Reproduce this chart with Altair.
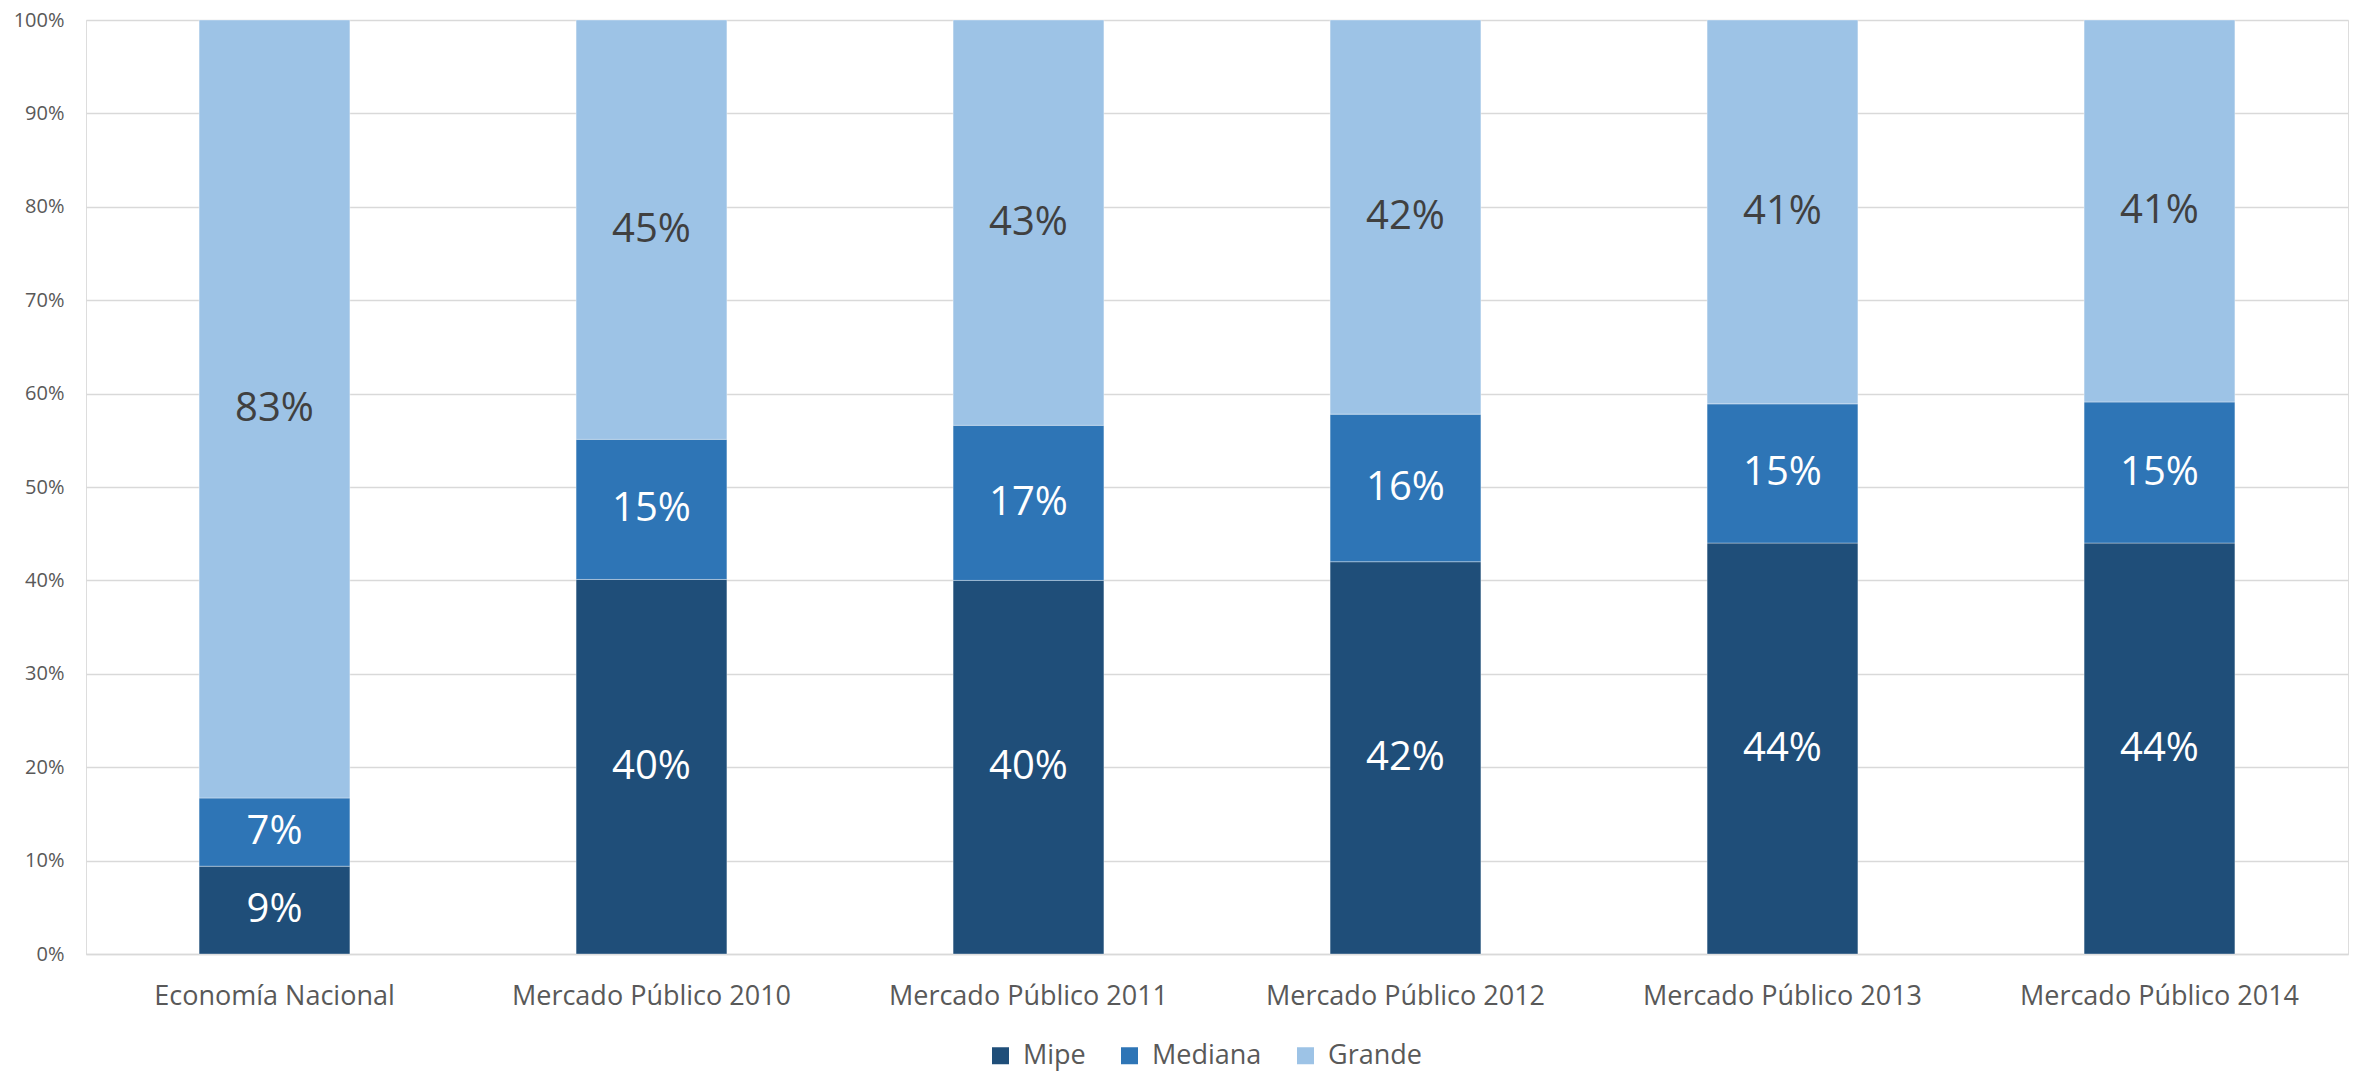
import altair as alt
import pandas as pd

categories = ["Economía Nacional", "Mercado Público 2010", "Mercado Público 2011",
              "Mercado Público 2012", "Mercado Público 2013", "Mercado Público 2014"]
segments = ["Mipe", "Mediana", "Grande"]
mipe = [0.094, 0.401, 0.400, 0.420, 0.440, 0.440]
mediana = [0.073, 0.150, 0.166, 0.158, 0.149, 0.151]
grande = [0.833, 0.449, 0.434, 0.422, 0.411, 0.409]
colors = ["#1F4E79", "#2E75B6", "#9DC3E6"]
y_ticks = [0, 0.1, 0.2, 0.3, 0.4, 0.5, 0.6, 0.7, 0.8, 0.9, 1.0]

rows = []
for i, c in enumerate(categories):
    for j, (s, vals) in enumerate(zip(segments, [mipe, mediana, grande])):
        rows.append({"Categoria": c, "Segmento": s, "orden": j, "valor": vals[i]})
df = pd.DataFrame(rows)

FONT = "Open Sans"

base = alt.Chart(df).transform_stack(
    stack="valor",
    groupby=["Categoria"],
    as_=["y0", "y1"],
    sort=[alt.SortField("orden", order="ascending")],
).transform_calculate(ymid="(datum.y0 + datum.y1) / 2")

x_enc = alt.X(
    "Categoria:N",
    sort=categories,
    title=None,
    scale=alt.Scale(paddingInner=0.6, paddingOuter=0.3),
    axis=alt.Axis(labelAngle=0, labelFontSize=27, labelColor="#595959", labelFont=FONT,
                  labelLimit=500, ticks=False, domainColor="#D9D9D9", domainWidth=1.5,
                  labelPadding=29),
)

bars = base.mark_bar(stroke="#ffffff", strokeWidth=1, strokeOpacity=0.35).encode(
    x=x_enc,
    y=alt.Y("y1:Q", title=None, scale=alt.Scale(domain=[0, 1], nice=False),
            axis=alt.Axis(format=".0%", values=y_ticks, labelFontSize=20, labelColor="#595959",
                          labelFont=FONT, domain=False, ticks=False, gridColor="#D9D9D9",
                          gridWidth=1.5, labelPadding=22)),
    y2="y0:Q",
    color=alt.Color("Segmento:N", sort=segments,
                    scale=alt.Scale(domain=segments, range=colors),
                    legend=alt.Legend(title=None, orient="none", legendX=901, legendY=1022,
                                      direction="horizontal", symbolType="square", symbolSize=289,
                                      symbolStrokeWidth=0, labelFontSize=27, labelColor="#595959",
                                      labelFont=FONT, labelOffset=9, columnPadding=30, padding=0)),
)

labels = base.mark_text(fontSize=40, font=FONT, baseline="middle", align="center").encode(
    x=alt.X("Categoria:N", sort=categories),
    y=alt.Y("ymid:Q"),
    text=alt.Text("valor:Q", format=".0%"),
    color=alt.condition(alt.datum.Segmento == "Grande", alt.value("#404040"), alt.value("#ffffff")),
)

chart = alt.layer(bars, labels).properties(
    width=2262,
    height=934,
    autosize=alt.AutoSizeParams(type="none"),
    padding={"left": 78, "top": 12, "right": 5, "bottom": 118},
).configure_view(stroke=None).configure(font=FONT)

chart.save("out.html", embed_options={"renderer": "svg", "actions": False})
